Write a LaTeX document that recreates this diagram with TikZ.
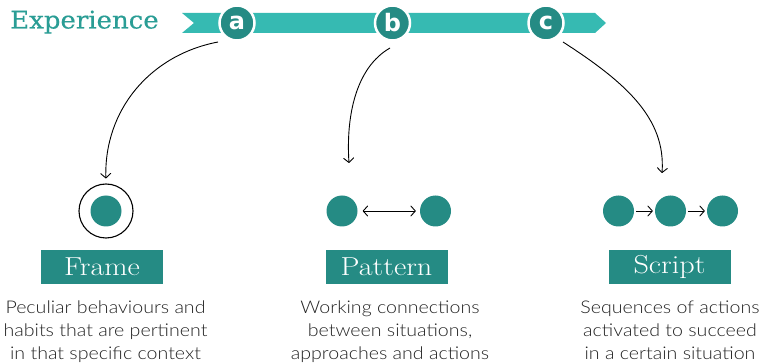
\documentclass[tikz,border=0pt]{standalone}
\usepackage{fontspec}
\usetikzlibrary{arrows.meta}
\newfontfamily\descfont[FakeStretch=1.12]{Lato Light}
\newfontfamily\expfont[FakeStretch=1.07,FakeBold=0.4]{DejaVu Serif}
\newfontfamily\letfont{DejaVu Sans}
\newfontfamily\labfont[FakeStretch=1.16]{Latin Modern Roman}
\definecolor{darkteal}{HTML}{258B84}
\definecolor{ribbon}{HTML}{36BAB2}
\definecolor{exptxt}{HTML}{2A9D95}
\definecolor{desctxt}{HTML}{222222}
\tikzset{
  milestone/.style={circle, fill=darkteal, draw=white, line width=2.5pt, minimum size=35pt, inner sep=0pt,
    text=white, font=\letfont\bfseries\fontsize{24}{24}\selectfont},
  dot/.style={circle, fill=darkteal, minimum size=31pt, inner sep=0pt},
  ring/.style={circle, draw=black, line width=1.1pt, minimum size=54pt, inner sep=0pt},
  labelbox/.style={fill=darkteal, minimum width=122pt, minimum height=34pt, inner sep=0pt,
    text=white, font=\labfont\fontsize{26}{26}\selectfont},
  desc/.style={align=center, text=desctxt, font=\descfont\fontsize{17.5}{23}\selectfont, inner sep=0pt},
  conn/.style={draw=black, line width=0.9pt, -{Straight Barb[length=4.5pt,width=10pt,line cap=round,line join=round]}},
  biconn/.style={draw=black, line width=0.9pt, {Straight Barb[length=4.5pt,width=10pt,line cap=round,line join=round]}-{Straight Barb[length=4.5pt,width=10pt,line cap=round,line join=round]}}
}
\begin{document}
\begin{tikzpicture}[x=1pt,y=-1pt]
\useasboundingbox (0,0) rectangle (763,363);
% title
\node[anchor=base west, inner sep=0pt, text=exptxt, font=\expfont\fontsize{24.3}{24.3}\selectfont] (exp) at (10,28.5) {Experience};
% ribbon
\fill[ribbon] (182,13) -- (595,13) -- (606,23) -- (595,33) -- (182,33) -- (194,23) -- cycle;
\node[milestone] (a) at (237,23) {a};
\node[milestone] (b) at (392.5,23) {b};
\node[milestone] (c) at (546,23) {c};
% frame
\node[ring] (frame) at (106,211) {};
\node[dot] (fdot) at (106,211) {};
\node[labelbox] (fbox) at (102,267) {Frame};
% pattern
\node[dot] (p1) at (342,211) {};
\node[dot] (p2) at (435.5,211) {};
\node[labelbox] (pbox) at (386.5,267) {Pattern};
% script
\node[dot] (s1) at (618.5,211) {};
\node[dot] (s2) at (670.5,211) {};
\node[dot] (s3) at (722.5,211) {};
\node[labelbox] (sbox) at (669.5,267) {Script};
% connectors
\coordinate (as) at (218,42);
\coordinate (bs) at (390,48);
\coordinate (be) at (349,163);
\coordinate (cs) at (563,42);
\coordinate (ce) at (662,173);
\draw[conn, shorten >=5pt] (as) .. controls (150,55) and (104,110) .. (frame.north);
\draw[conn] (bs) .. controls (355,68) and (346,118) .. (be);
\draw[conn] (cs) .. controls (625,82) and (666,118) .. (ce);
\draw[biconn, shorten <=5pt, shorten >=4pt] (p1) -- (p2);
\draw[conn, shorten <=2pt, shorten >=2pt] (s1) -- (s2);
\draw[conn, shorten <=2pt, shorten >=2pt] (s2) -- (s3);
% descriptions
\node[desc, anchor=north] (fdesc) at (105.5,301) {Peculiar behaviours and\\habits that are pertinent\\in that specific context};
\node[desc, anchor=north] (pdesc) at (390,301) {Working connections\\between situations,\\approaches and actions};
\node[desc, anchor=north] (sdesc) at (670,301) {Sequences of actions\\activated to succeed\\in a certain situation};
\end{tikzpicture}
\end{document}
